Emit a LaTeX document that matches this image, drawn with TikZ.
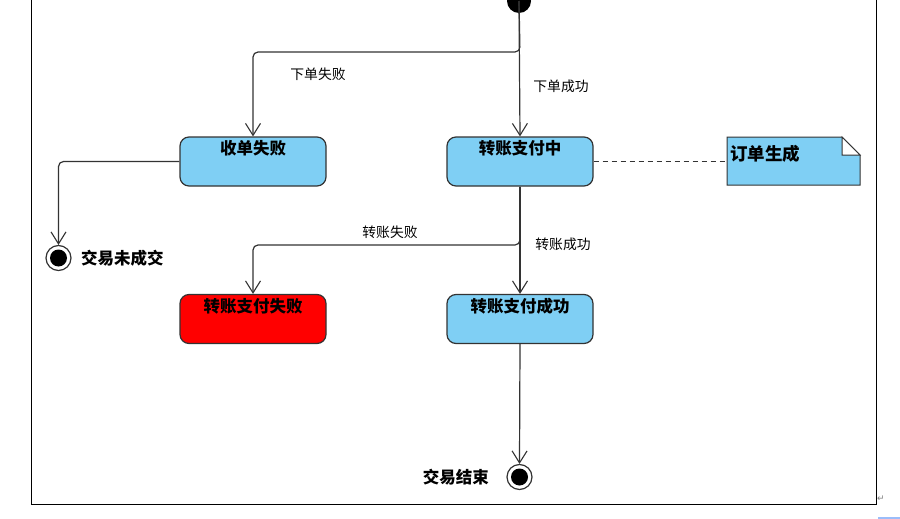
\documentclass[tikz,border=0pt]{standalone}
\usepackage{fontspec}
\setmainfont{Noto Sans CJK SC}
\newfontfamily\symfont{DejaVu Sans}
\usetikzlibrary{arrows.meta}
\definecolor{stateblue}{HTML}{7FCFF4}
\definecolor{linegray}{HTML}{333333}

\begin{document}
\begin{tikzpicture}[x=1pt, y=-1pt,
    every node/.style={font=\fontsize{13.8}{15}\selectfont},
    arr/.style={draw=linegray, line width=1.2pt, -{Straight Barb[length=12pt, width=15pt, line width=1.1pt]}},
    conn/.style={draw=linegray, line width=1.2pt},
    state/.style={draw=linegray, line width=1.2pt, fill=stateblue, rounded corners=9pt,
        minimum width=146pt, inner sep=4pt, text height=13.5pt, text depth=27.5pt,
        font=\fontsize{16.5}{18}\selectfont\bfseries},
    final/.style={circle, draw=linegray, line width=1.2pt, fill=white, minimum size=25pt, inner sep=0pt,
        path picture={\fill[black] (path picture bounding box.center) circle (8.5pt);}},
    bold/.style={font=\fontsize{16.5}{18}\selectfont\bfseries}]
    \useasboundingbox (0,0) rectangle (900,519);

    % Frame
    \draw[line width=1pt] (31,0) -- (31,504) -- (876,504) -- (876,0);
    \node[text=gray, inner sep=0pt, font=\symfont\fontsize{9}{10}\selectfont] (ret) at (881,499) {↵};
    \draw[color=stateblue!70!blue!60, line width=2pt] (878,518) -- (900,518);

    % States
    \fill (519,1) circle (12) coordinate (init);
    \node[state] (refuse)  at (253,161.5) {收单失败};
    \node[state] (paying)  at (520,161.5) {转账支付中};
    \node[state, fill=red] (payfail) at (253,319) {转账支付失败};
    \node[state] (paysucc) at (520,319) {转账支付成功};
    \node[final] (end1) at (58.5,258) {};
    \node[final] (end2) at (519.5,477) {};
    \node[bold, right=6pt] (end1lbl) at (end1.east) {交易未成交};
    \node[bold, left=14pt] (end2lbl) at (end2.west) {交易结束};

    % Note
    \fill[stateblue, draw=linegray, line width=1pt] (727,137) -- (842,137) -- (860,155) -- (860,185) -- (727,185) -- cycle;
    \filldraw[fill=white, draw=linegray, line width=1pt] (842,137) -- (842,155) -- (860,155) -- cycle;
    \node[anchor=west, inner sep=2pt, font=\fontsize{17.5}{19}\selectfont\bfseries] (notetxt) at (728,154) {订单生成};
    \coordinate (note) at (727,161.5);

    % Transitions
    \coordinate (split1) at (520,52);
    \coordinate (split2) at (520,245);
    \draw[arr] (init) -- (paying.north);
    \draw[arr, rounded corners=5pt] (init) -- (split1) -| (refuse.north);
    \draw[arr, rounded corners=5pt] (refuse.west) -| (end1.north);
    \draw[arr] (paying.south) -- (paysucc.north);
    \draw[arr, rounded corners=5pt] (paying.south) -- (split2) -| (payfail.north);
    \draw[arr] (paysucc.south) -- (end2.north);
    \draw[conn, dashed, dash pattern=on 5pt off 4pt] (paying.east) -- (note);

    % Labels
    \node (l1) at (318,74) {下单失败};
    \node (l2) at (561,86) {下单成功};
    \node (l3) at (390,232) {转账失败};
    \node (l4) at (563,244) {转账成功};
\end{tikzpicture}
\end{document}
